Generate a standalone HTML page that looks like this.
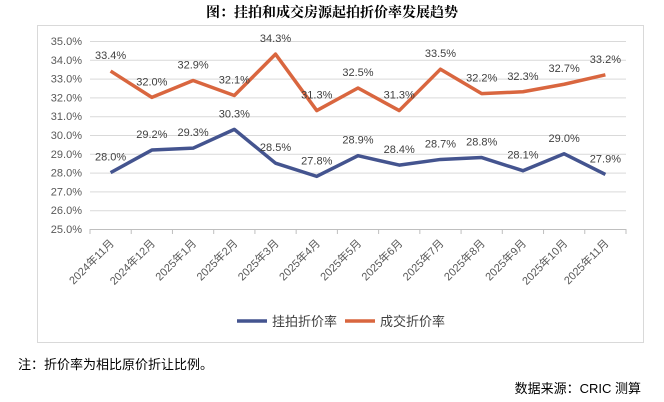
<!DOCTYPE html>
<html><head><meta charset="utf-8"><style>
body{margin:0;background:#fff;width:664px;height:402px;overflow:hidden;font-family:"Liberation Sans","Noto Sans CJK SC",sans-serif}
svg{position:absolute;left:0;top:0}
</style></head><body>
<svg width="664" height="402">
<text x="332" y="17" text-anchor="middle" font-size="14" font-weight="bold" fill="#000" font-family="'Noto Serif CJK SC','Noto Sans CJK SC',serif">图：挂拍和成交房源起拍折价率发展趋势</text>
<rect x="37.5" y="25.5" width="606" height="317" fill="none" stroke="#d9d9d9"/>
<g id="grid"></g><g id="xaxis"></g><g id="series"></g>
<g>
<line x1="237" y1="321" x2="267" y2="321" stroke="#44548f" stroke-width="3.5"/>
<text x="272" y="326" font-size="13" fill="#404040">挂拍折价率</text>
<line x1="345" y1="321" x2="375" y2="321" stroke="#d9663f" stroke-width="3.5"/>
<text x="380" y="326" font-size="13" fill="#404040">成交折价率</text>
</g>
<text x="18" y="369" font-size="13" fill="#000">注：折价率为相比原价折让比例。</text>
<text x="641" y="393" text-anchor="end" font-size="13" fill="#000">数据来源：CRIC 测算</text>
</svg>
<script>
const categories=["2024年11月","2024年12月","2025年1月","2025年2月","2025年3月","2025年4月","2025年5月","2025年6月","2025年7月","2025年8月","2025年9月","2025年10月","2025年11月"];
const listing=[28.0,29.2,29.3,30.3,28.5,27.8,28.9,28.4,28.7,28.8,28.1,29.0,27.9];
const deal=[33.4,32.0,32.9,32.1,34.3,31.3,32.5,31.3,33.5,32.2,32.3,32.7,33.2];
const yTicks=[25,26,27,28,29,30,31,32,33,34,35];
const NS="http://www.w3.org/2000/svg";
const L=90,R=626,T=41,B=229,yMin=25,yMax=35;
const step=(R-L)/categories.length;
const x=i=>L+step*(i+0.5);
const y=v=>B-(v-yMin)/(yMax-yMin)*(B-T);
function mk(tag,attrs,parent){const e=document.createElementNS(NS,tag);for(const k in attrs)e.setAttribute(k,attrs[k]);parent.appendChild(e);return e;}
const grid=document.getElementById('grid'),xa=document.getElementById('xaxis'),ser=document.getElementById('series');
yTicks.forEach(t=>{
 const ln=mk('line',{x1:L,x2:R,y1:y(t)+.5,y2:y(t)+.5,stroke:t===yMin?'#bfbfbf':'#d9d9d9'},grid);
 
 
 const tx=mk('text',{x:82,y:y(t)+4,'text-anchor':'end','font-size':11,fill:'#595959'},grid);
 tx.textContent=t.toFixed(1)+'%';
 
 
});
for(let i=0;i<=categories.length;i++){
 const tk=mk('line',{x1:L+step*i,x2:L+step*i,y1:B,y2:B+5,stroke:'#bfbfbf'},xa);
 
 
}
categories.forEach((c,i)=>{
 const cx=x(i)+4,cy=B+15;
 const tx=mk('text',{x:cx,y:cy,'text-anchor':'end','font-size':11,fill:'#595959',transform:`rotate(-45 ${cx} ${cy})`},xa);
 tx.textContent=c;
 
 
});
function drawSeries(vals,color,name){
 const p=mk('polyline',{points:vals.map((v,i)=>x(i)+','+y(v)).join(' '),fill:'none',stroke:color,'stroke-width':3.5,'stroke-linejoin':'round'},ser);
 
 
 vals.forEach((v,i)=>{
  const t=mk('text',{x:x(i),y:y(v)-12,'text-anchor':'middle','font-size':11,fill:'#404040'},ser);
  t.textContent=v.toFixed(1)+'%';
  
  
 });
}
drawSeries(deal,'#d9663f','deal');
drawSeries(listing,'#44548f','listing');
</script>
</body></html>
